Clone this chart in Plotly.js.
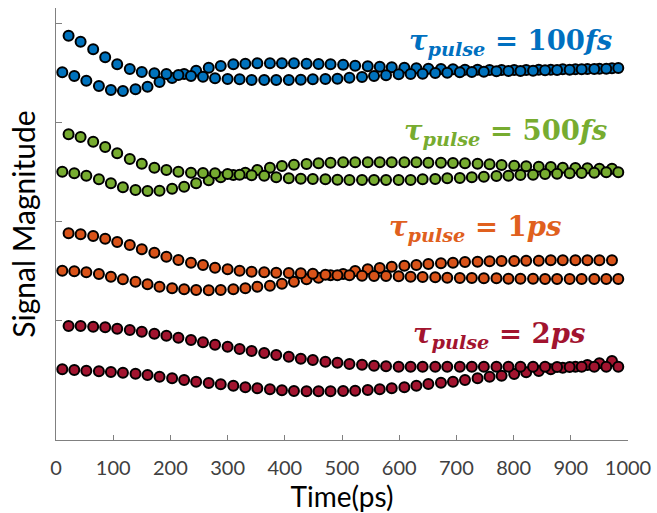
<!DOCTYPE html>
<html>
<head>
<meta charset="utf-8">
<script src="https://cdn.plot.ly/plotly-3.0.1.min.js"></script>
<style>html,body{margin:0;padding:0;background:#fff;}#chart{width:657px;height:513px;}</style>
</head>
<body>
<div id="chart"></div>
<script>
// Sample times (ps) for the two interleaved series of each pulse width
const timeA = [22,43,65,86,107,129,150,172,193,214,236,257,278,300,321,342,364,385,407,428,449,471,492,513,535,556,577,599,620,641,663,684,706,727,748,770,791,812,834,855,876,898,919,941,962,983];
const timeB = [11,32,53,75,96,117,139,160,181,203,224,245,267,288,310,331,352,374,395,416,438,459,480,502,523,545,566,587,609,630,651,673,694,715,737,758,779,801,822,844,865,886,908,929,950,972];

// Signal magnitude (arbitrary units, traces vertically offset)
const fs100_A = [404.3,398.3,390.7,382.7,375.7,371.0,368.0,366.7,366.0,365.0,364.0,363.3,361.7,361.0,360.7,360.0,360.0,360.0,360.0,360.3,360.7,361.0,361.3,362.3,363.0,364.0,364.7,365.7,366.0,366.3,367.0,367.3,367.7,368.0,368.3,368.7,369.0,369.0,369.3,369.7,370.0,370.3,370.7,371.0,371.3,372.0];
const fs100_B = [367.7,364.0,359.3,354.0,350.0,349.0,350.7,353.3,358.0,362.0,366.0,369.3,372.3,374.0,375.7,376.3,376.7,376.7,376.7,376.7,376.3,376.0,375.7,375.3,374.3,373.7,373.3,372.7,372.3,371.7,371.3,371.0,370.7,370.3,370.3,370.0,370.0,370.0,370.0,370.3,370.3,370.7,370.7,371.0,371.3,371.7];
const fs500_A = [305.7,303.0,298.3,293.0,286.7,281.0,276.3,272.3,270.0,268.3,267.3,267.0,266.7,266.0,265.3,264.7,264.3,262.7,261.7,261.3,261.0,260.7,260.3,260.0,260.0,260.0,260.0,260.0,260.0,260.7,261.0,261.7,262.0,262.7,263.3,264.0,264.3,265.0,265.3,266.0,266.3,266.7,267.0,267.3,267.7,267.7];
const fs500_B = [268.3,266.7,264.3,260.7,256.7,252.7,250.0,249.0,249.3,251.3,253.3,256.7,259.7,262.7,265.0,267.3,270.0,272.3,274.0,275.3,276.0,276.7,277.3,277.7,277.7,277.7,277.7,277.7,277.7,277.7,277.3,277.3,277.0,276.7,276.3,275.7,275.0,274.3,273.7,273.3,273.0,272.3,272.0,271.7,271.3,271.3];
const ps1_A = [206.7,205.7,204.0,201.3,198.0,195.0,190.7,187.3,183.3,180.0,177.3,175.0,172.3,170.7,169.3,168.3,167.7,167.3,167.0,166.7,166.3,165.3,164.7,164.7,164.3,164.0,164.0,163.7,163.3,163.0,162.7,162.3,162.0,162.0,161.7,161.7,161.3,161.3,161.3,161.0,161.0,161.0,161.0,161.0,161.0,161.0];
const ps1_B = [169.3,168.7,167.7,166.0,163.3,160.7,158.3,155.7,153.3,151.7,150.7,150.0,149.7,150.0,150.7,151.7,153.3,154.3,156.3,158.3,160.7,162.3,164.7,166.0,169.0,170.7,172.0,173.3,174.3,175.0,176.0,176.7,177.3,178.0,178.3,178.7,179.0,179.0,179.3,179.3,179.7,179.7,179.7,179.7,179.7,179.7];
const ps2_A = [114.0,114.0,113.3,112.7,111.3,110.0,108.3,106.3,104.3,102.3,100.0,97.7,95.3,93.3,91.0,89.0,87.0,85.0,83.3,81.3,80.0,78.3,77.3,76.0,75.3,74.3,73.7,73.3,73.3,73.3,73.3,73.3,73.3,73.3,73.3,73.3,73.3,73.3,73.3,73.3,73.0,73.0,73.3,73.3,73.3,73.3];
const ps2_B = [70.7,70.0,69.3,68.7,68.0,67.3,66.3,65.0,63.3,61.7,60.0,58.3,57.0,55.7,54.3,52.7,51.7,50.7,49.7,49.0,48.7,48.7,48.7,49.0,49.3,50.0,50.7,51.7,52.7,54.3,56.0,57.3,58.3,60.0,61.7,63.3,64.3,66.0,67.7,69.0,70.7,72.3,73.3,75.0,76.7,79.0];

const xTickVals = [0,100,200,300,400,500,600,700,800,900,1000];
const yTickVals = [120,219,318,417];
const labels = ['100','500','1','2'];
const units = ['fs','fs','ps','ps'];

const colors = ['#0072BD','#77AC30','#D95319','#A2142F'];
const labelColors = ['#0070C0','#77AC30','#E0601E','#A2142F'];
const seriesA = [fs100_A, fs500_A, ps1_A, ps2_A];
const seriesB = [fs100_B, fs500_B, ps1_B, ps2_B];

const traces = [];
for (let i = 0; i < 4; i++) {
  [[timeB, seriesB[i]], [timeA, seriesA[i]]].forEach(([xs, ys]) => {
    traces.push({
      x: xs, y: ys, type: 'scatter', mode: 'markers', showlegend: false,
      marker: {size: 10, color: colors[i], line: {color: '#000', width: 2}},
      cliponaxis: false
    });
  });
}

const annPos = [[975, 398], [966, 308], [887, 212], [929, 105]];
const annotations = labels.map((v, i) => ({
  x: annPos[i][0], y: annPos[i][1], xref: 'x', yref: 'y',
  xanchor: 'right', yanchor: 'middle', showarrow: false,
  text: '<b><i>τ</i><sub><i>pulse</i></sub> = ' + v + '<i>' + units[i] + '</i></b>',
  font: {family: 'DejaVu Serif, Liberation Serif, serif', size: 27.5, color: labelColors[i]}
}));

const layout = {
  width: 657, height: 513,
  margin: {l: 56, r: 29, t: 8, b: 73},
  paper_bgcolor: '#fff', plot_bgcolor: '#fff',
  showlegend: false,
  font: {family: 'Lato, Open Sans, sans-serif', color: '#404040'},
  xaxis: {
    range: [0, 1000], tickvals: xTickVals, ticktext: xTickVals.map(String),
    ticks: 'inside', ticklen: 5, tickwidth: 1, tickcolor: '#808080',
    showline: true, linecolor: '#808080', linewidth: 1.3,
    showgrid: false, zeroline: false, ticklabelstandoff: 10,
    tickfont: {size: 20, color: '#404040'},
    title: {text: 'Time(ps)', font: {size: 28, color: '#000'}, standoff: 7}
  },
  yaxis: {
    range: [0, 432], tickvals: yTickVals, showticklabels: false,
    ticks: 'inside', ticklen: 6, tickwidth: 1, tickcolor: '#808080',
    showline: true, linecolor: '#808080', linewidth: 1.3,
    showgrid: false, zeroline: false,
    title: {text: 'Signal Magnitude', font: {size: 30, color: '#000'}, standoff: 10}
  },
  annotations: annotations
};

Plotly.newPlot('chart', traces, layout, {displayModeBar: false, staticPlot: true});
</script>
</body>
</html>
